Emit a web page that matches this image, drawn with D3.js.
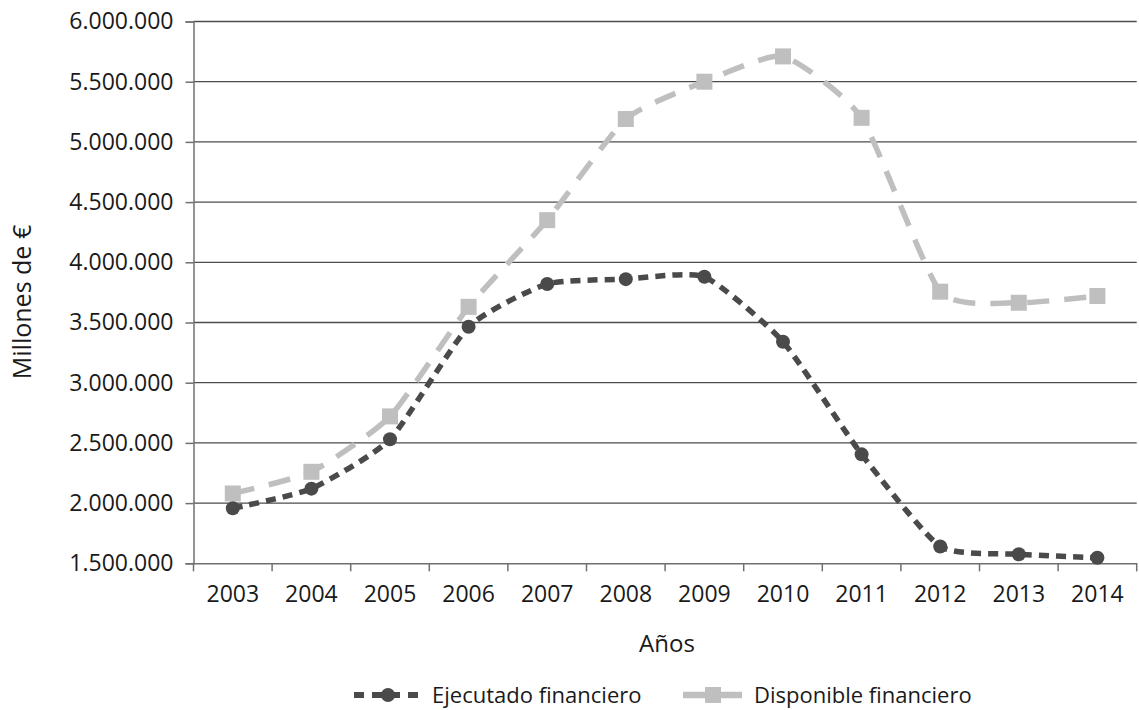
<!DOCTYPE html>
<html><head><meta charset="utf-8">
<script src="https://cdn.jsdelivr.net/npm/d3@7"></script>
<style>
html,body{margin:0;padding:0;background:#fff;}
svg{display:block;font-family:"Open Sans",sans-serif;}
</style></head>
<body>
<svg id="chart" width="1139" height="710"></svg>
<script>
const years = ["2003","2004","2005","2006","2007","2008","2009","2010","2011","2012","2013","2014"];
const ejecutado = [1957000,2120000,2530000,3465000,3820000,3860000,3880000,3340000,2405000,1640000,1575000,1546000];
const disponible = [2080000,2260000,2720000,3630000,4350000,5190000,5500000,5710000,5200000,3756000,3664000,3720000];
const yTicks = [1500000,2000000,2500000,3000000,3500000,4000000,4500000,5000000,5500000,6000000];
const seriesNames = ["Ejecutado financiero","Disponible financiero"];

const svg = d3.select("#chart");
const pL = 193.5, pR = 1136.7, pT = 21.5, pB = 563.3;
const x = d3.scaleBand().domain(years).range([pL, pR]);
const y = d3.scaleLinear().domain([1500000, 6000000]).range([pB, pT]);
const fmt = v => d3.format(",")(v).replace(/,/g, ".");
const FS = 23;
const txt = "#1a1a1a", axc = "#707070";

// gridlines
svg.append("g").selectAll("line").data(yTicks.slice(1)).join("line")
  .attr("x1", pL).attr("x2", pR)
  .attr("y1", d => y(d)).attr("y2", d => y(d))
  .attr("stroke", "#4d4d4d").attr("stroke-width", 1.3);

// y axis
const yAxis = svg.append("g").attr("transform", `translate(${pL},0)`)
  .call(d3.axisLeft(y).tickValues(yTicks).tickFormat(fmt).tickSize(8).tickPadding(12));
yAxis.select(".domain").attr("stroke", axc).attr("stroke-width", 1.5);
yAxis.selectAll(".tick line").attr("stroke", axc).attr("stroke-width", 1.5);
yAxis.selectAll("text").attr("font-size", FS).attr("fill", txt).attr("font-family", "Open Sans");

// x axis
const xAxis = svg.append("g").attr("transform", `translate(0,${pB})`)
  .call(d3.axisBottom(x).tickSize(0).tickPadding(0));
xAxis.select(".domain").attr("stroke", axc).attr("stroke-width", 1.5);
xAxis.selectAll(".tick text").attr("font-size", FS).attr("fill", txt)
  .attr("font-family", "Open Sans").attr("dy", null).attr("y", 38.5);
const bounds = years.map(d => x(d)).concat([x(years[years.length-1]) + x.bandwidth()]);
xAxis.append("g").selectAll("line").data(bounds).join("line")
  .attr("x1", d => d).attr("x2", d => d).attr("y1", 0).attr("y2", 8)
  .attr("stroke", axc).attr("stroke-width", 1.5);

// axis titles
svg.append("text").attr("x", 667).attr("y", 652).attr("text-anchor", "middle")
  .attr("font-size", 24).attr("fill", txt).text("Años");
svg.append("text").attr("transform", "translate(31,302) rotate(-90)").attr("text-anchor", "middle")
  .attr("font-size", 25).attr("fill", txt).text("Millones de €");

const cx = d => x(d) + x.bandwidth() / 2;
const curve = d3.curveCardinal.tension(0.45);
const line = d3.line().x(d => cx(d[0])).y(d => y(d[1])).curve(curve);

const cLight = "#bfbfbf", cDark = "#4a4a4a";

// Disponible
const dispData = years.map((yr, i) => [yr, disponible[i]]);
svg.append("path").datum(dispData).attr("d", line).attr("fill", "none")
  .attr("stroke", cLight).attr("stroke-width", 5.5).attr("stroke-dasharray", "22,15");
svg.append("g").selectAll("rect").data(dispData).join("rect")
  .attr("x", d => cx(d[0]) - 8).attr("y", d => y(d[1]) - 8)
  .attr("width", 16).attr("height", 16).attr("fill", cLight);

// Ejecutado
const ejData = years.map((yr, i) => [yr, ejecutado[i]]);
svg.append("path").datum(ejData).attr("d", line).attr("fill", "none")
  .attr("stroke", cDark).attr("stroke-width", 5.5).attr("stroke-dasharray", "10,7");
svg.append("g").selectAll("circle").data(ejData).join("circle")
  .attr("cx", d => cx(d[0])).attr("cy", d => y(d[1])).attr("r", 7).attr("fill", cDark);

// legend
const lg = svg.append("g");
const ly = 695;
lg.append("line").attr("x1", 354).attr("x2", 421).attr("y1", ly).attr("y2", ly)
  .attr("stroke", cDark).attr("stroke-width", 6).attr("stroke-dasharray", "10,8");
lg.append("circle").attr("cx", 388).attr("cy", ly).attr("r", 7).attr("fill", cDark);
lg.append("text").attr("x", 432).attr("y", ly).attr("dy", "0.36em").attr("font-size", 22)
  .attr("fill", txt).text(seriesNames[0]);
lg.append("line").attr("x1", 683).attr("x2", 742).attr("y1", ly).attr("y2", ly)
  .attr("stroke", cLight).attr("stroke-width", 6.5);
lg.append("rect").attr("x", 705).attr("y", ly - 8).attr("width", 16).attr("height", 16).attr("fill", cLight);
lg.append("text").attr("x", 754).attr("y", ly).attr("dy", "0.36em").attr("font-size", 22)
  .attr("fill", txt).text(seriesNames[1]);
</script>
</body></html>
